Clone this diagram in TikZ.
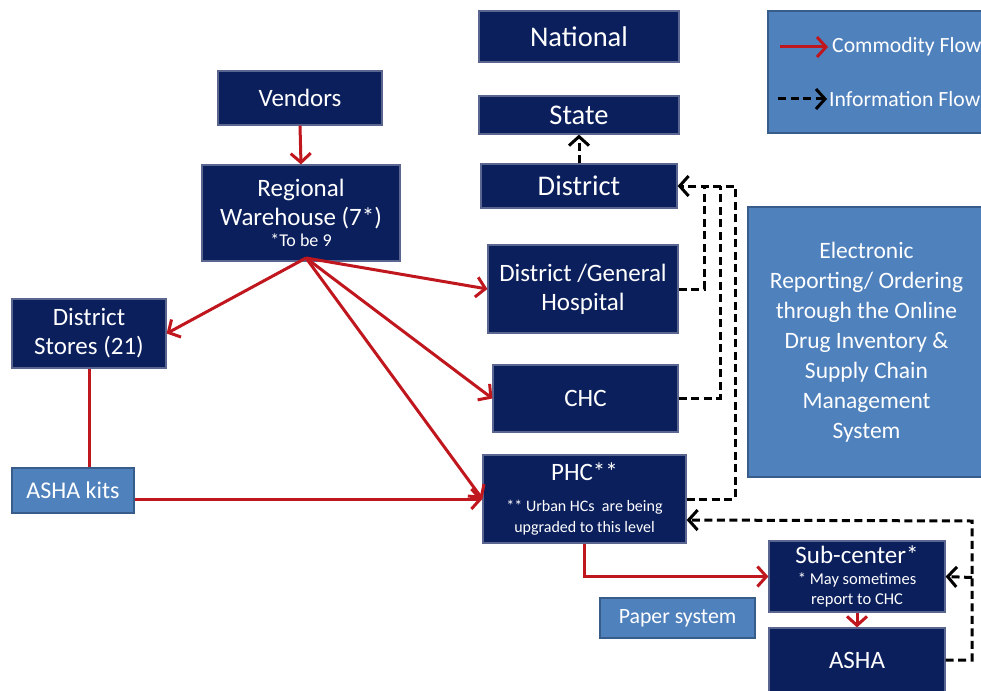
\documentclass[tikz,border=0pt]{standalone}
\usepackage{fontspec}
\setmainfont{Carlito}
\usetikzlibrary{arrows.meta,calc}
\definecolor{navy}{HTML}{0B1F5C}
\definecolor{navyedge}{HTML}{5A6690}
\definecolor{lblue}{HTML}{4F81BD}
\definecolor{lborder}{HTML}{385D8A}
\definecolor{cred}{HTML}{C0161E}
\tikzset{
  dbox/.style={draw=navyedge, line width=1.2pt, fill=navy, text=white, inner sep=0pt, align=center, font=\fontsize{25}{29}\selectfont},
  bigbox/.style={dbox, font=\fontsize{28.5}{32}\selectfont},
  lbox/.style={draw=lborder, line width=1.2pt, fill=lblue, text=white, inner sep=0pt, align=center},
  cflow/.style={draw=cred, line width=3pt, -{Straight Barb[length=9pt,width=20pt,line width=3pt]}},
  cline/.style={draw=cred, line width=3pt},
  iline/.style={draw=black, line width=3pt, dash pattern=on 8pt off 4.5pt},
  iflow/.style={iline, -{Straight Barb[length=9pt,width=20pt,line width=3pt]}}
}
\begin{document}
\begin{tikzpicture}[x=1pt,y=-1pt]
\useasboundingbox (0,0) rectangle (981,690);
\clip (0,0) rectangle (981,690);
% boxes
\node[bigbox, minimum width=200, minimum height=51] (National) at (579,36.5) {National};
\node[bigbox, minimum width=200, minimum height=38] (State) at (579,115) {State};
\node[bigbox, minimum width=196, minimum height=44] (District) at (579,186) {District};
\node[dbox, minimum width=164, minimum height=54] (Vendors) at (300,98) {Vendors};
\node[dbox, minimum width=198, minimum height=96] (RW) at (301,213) {Regional\\Warehouse (7*)\\[-8pt]{\fontsize{18}{20}\selectfont *To be 9}};
\node[dbox, minimum width=190, minimum height=88] (DGH) at (583,289) {District /General\\Hospital};
\node[dbox, minimum width=154, minimum height=69] (DS) at (89,333.5) {District\\Stores (21)};
\node[dbox, minimum width=185, minimum height=67] (CHC) at (585.5,398.5) {CHC};
\node[lbox, minimum width=122, minimum height=45, font=\fontsize{24}{28}\selectfont] (Kits) at (73,490.5) {ASHA kits};
\node[dbox, minimum width=203, minimum height=88] (PHC) at (584.5,499) {PHC**\\[2pt]{\fontsize{16}{21}\selectfont ** Urban HCs~ are being}\\[-8pt]{\fontsize{16}{21}\selectfont upgraded to this level}};
\node[dbox, minimum width=176, minimum height=71] (Sub) at (857,576.5) {Sub-center*\\[-8pt]{\fontsize{16.5}{20}\selectfont * May sometimes}\\[-9pt]{\fontsize{16.5}{20}\selectfont report to CHC}};
\node[lbox, minimum width=155, minimum height=40, font=\fontsize{21.8}{25}\selectfont] (Paper) at (677.5,618) {Paper system};
\node[dbox, minimum width=176, minimum height=64] (ASHA) at (857,660) {ASHA};
\node[lbox, minimum width=217, minimum height=122] (Legend) at (876.5,72) {};
\node[lbox, minimum width=237, minimum height=270, font=\fontsize{23.5}{30}\selectfont] (EDI) at (866.5,342) {Electronic\\Reporting/ Ordering\\through the Online\\Drug Inventory \&\\Supply Chain\\Management\\System};
% legend
\coordinate (lc1) at (780,47);
\coordinate (lc2) at (828,47);
\coordinate (li1) at (778,99);
\coordinate (li2) at (827,99);
\draw[cflow] (lc1) -- (lc2);
\draw[iflow] (li1) -- (li2);
\node[anchor=west, text=white, inner sep=0pt, font=\fontsize{21.7}{25}\selectfont] (LT1) at (832,47) {Commodity Flow};
\node[anchor=west, text=white, inner sep=0pt, font=\fontsize{21.7}{25}\selectfont] (LT2) at (829,99) {Information Flow};
% commodity flows
\coordinate (rwo) at (306,258);
\draw[cflow] (Vendors.south) -- (RW.north);
\draw[cflow] (rwo) -- (DS.east);
\draw[cflow] (rwo) -- (DGH.west);
\draw[cflow] (rwo) -- (CHC.west);
\draw[cflow] (rwo) -- (PHC.west);
\draw[cline] (DS.south) -- (DS.south |- Kits.north);
\draw[cflow] (Kits.east |- PHC.west) -- (PHC.west);
\draw[cflow] (PHC.south) |- (Sub.west);
\draw[cflow] (Sub.south) -- (ASHA.north);
% information flows
\draw[iflow] (District.north) -- (State.south);
\coordinate (x1) at (704,186);
\coordinate (x2) at (720,186);
\coordinate (x3) at (735,186);
\draw[iline] (DGH.east) -| (x1);
\draw[iline] (CHC.east) -| (x2);
\draw[iflow] (PHC.east) -| (x3) -- (District.east);
\coordinate (y1) at (972,521);
\coordinate (y2) at (972,577.5);
\draw[iflow] (ASHA.east) -| (y1) -- ($(PHC.east)+(0,21)$);
\draw[iflow] (y2) -- (Sub.east);
\end{tikzpicture}
\end{document}
